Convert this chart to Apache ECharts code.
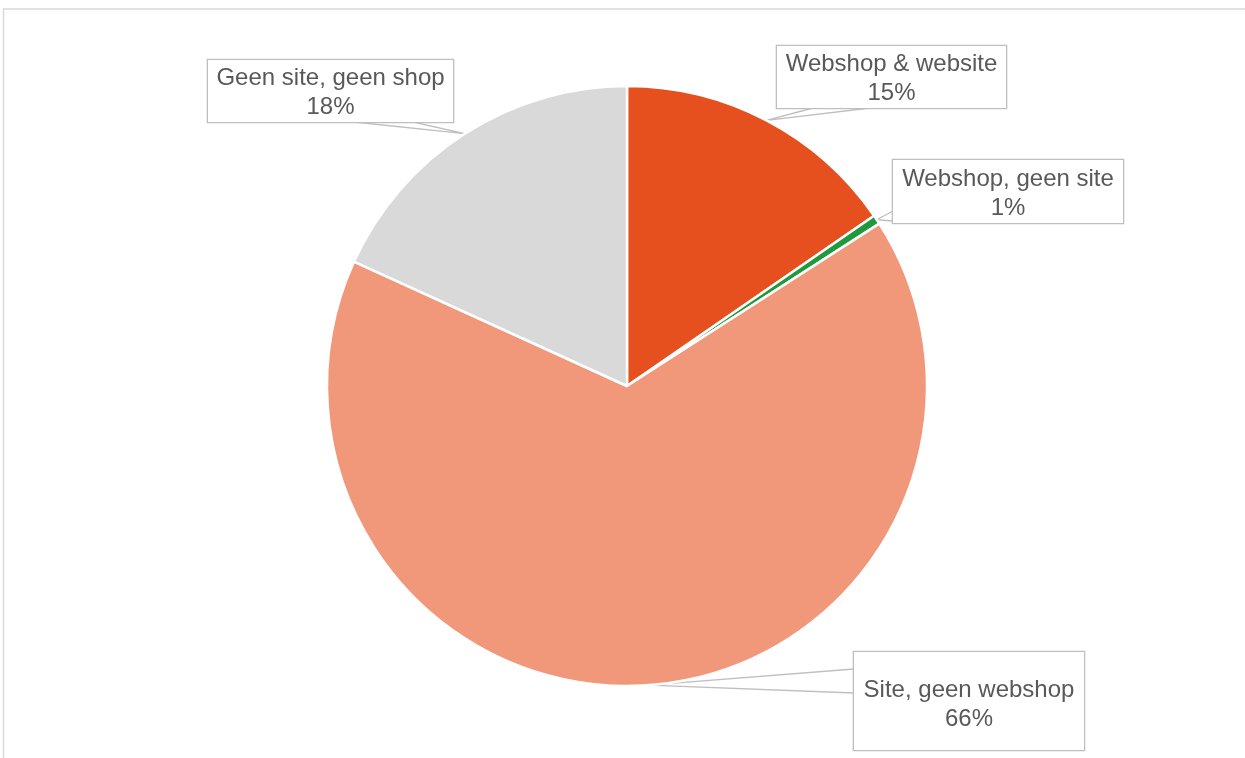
<!DOCTYPE html>
<html>
<head>
<meta charset="utf-8">
<script src="https://cdn.jsdelivr.net/npm/echarts@6/dist/echarts.min.js"></script>
<style>
  html, body { margin: 0; padding: 0; background: #ffffff; }
  #chart { width: 1245px; height: 758px; }
</style>
</head>
<body>
<div id="chart"></div>
<script>
// Online presence of businesses (share of respondents)
const categories = ['Webshop & website', 'Webshop, geen site', 'Site, geen webshop', 'Geen site, geen shop'];
const shares = [15.4, 0.5, 65.9, 18.2];
const colors = ['#E6501F', '#1E9A3C', '#F1977A', '#D9D9D9'];

// Callout boxes: centre, size, text drop inside the box and
// the two points where the pointer meets the box
const callouts = [
  { cx: 891.5, cy: 77,    w: 229, h: 62, drop: 2, a: [813, 108], b: [870, 108] },
  { cx: 1008,  cy: 191.5, w: 230, h: 63, drop: 2, a: [893, 211], b: [893, 221] },
  { cx: 969,   cy: 701,   w: 230, h: 98, drop: 4, a: [854, 669], b: [854, 693] },
  { cx: 330.5, cy: 91,    w: 245, h: 62, drop: 2, a: [354, 122], b: [413, 122] }
];

const LINE_H = 29;

const data = categories.map((name, i) => {
  const c = callouts[i];
  const pad = (c.h - 2 * LINE_H) / 2;
  return {
    name: name,
    value: shares[i],
    itemStyle: { color: colors[i] },
    label: {
      width: c.w,
      height: 2 * LINE_H,
      padding: [pad + c.drop, 0, pad - c.drop, 0]
    }
  };
});

const chart = echarts.init(document.getElementById('chart'), null, { renderer: 'canvas' });

chart.setOption({
  backgroundColor: '#ffffff',
  animation: false,
  graphic: [{
    type: 'rect',
    shape: { x: 3.5, y: 9, width: 1400, height: 900 },
    style: { fill: 'none', stroke: '#D9D9D9', lineWidth: 1.5 },
    silent: true,
    z: 0
  }],
  series: [{
    type: 'pie',
    center: [627, 386],
    radius: [0, 300],
    startAngle: 90,
    clockwise: true,
    percentPrecision: 0,
    avoidLabelOverlap: false,
    itemStyle: { borderColor: '#ffffff', borderWidth: 2.5 },
    label: {
      show: true,
      position: 'outside',
      formatter: '{b}\n{d}%',
      fontFamily: 'Liberation Sans, Arial, sans-serif',
      fontSize: 24,
      lineHeight: LINE_H,
      color: '#595959',
      align: 'center',
      backgroundColor: '#ffffff',
      borderColor: '#BFBFBF',
      borderWidth: 1.3
    },
    labelLine: {
      show: true,
      smooth: false,
      lineStyle: { color: '#BFBFBF', width: 1.3 }
    },
    labelLayout: function (p) {
      const c = callouts[p.dataIndex];
      const out = { x: c.cx, y: c.cy - c.h / 2, align: 'center', verticalAlign: 'top' };
      if (p.labelLinePoints && p.labelLinePoints.length) {
        const tip = p.labelLinePoints[0];
        out.labelLinePoints = [c.a, [tip[0], tip[1]], c.b];
      }
      return out;
    },
    data: data
  }]
});
</script>
</body>
</html>
